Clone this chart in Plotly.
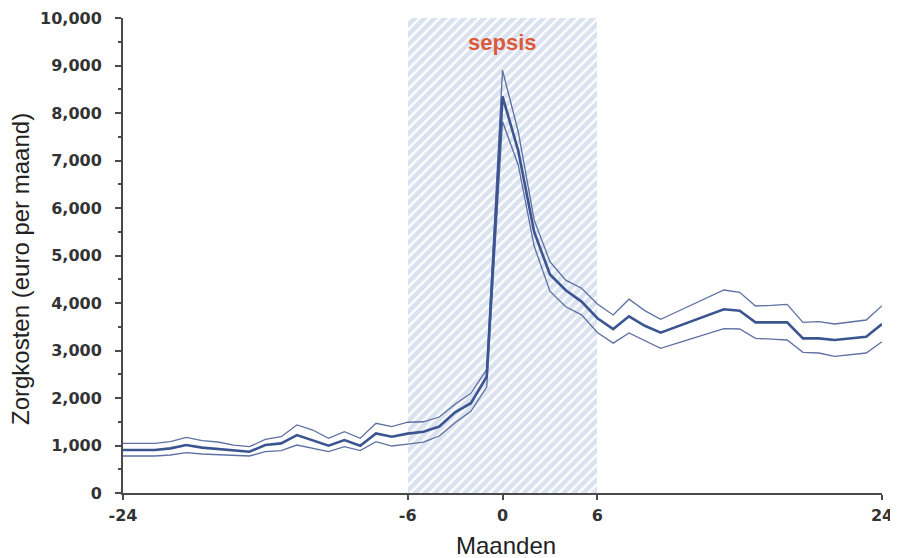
import plotly.graph_objects as go

months = list(range(-24, 25))

upper = [1046, 1046, 1046, 1081, 1172, 1102, 1074, 1010, 975, 1130, 1186, 1432, 1326, 1151, 1291, 1151, 1467, 1396,
         1490, 1500, 1600, 1870, 2100, 2600, 8900,
         7600, 5750, 4870, 4480, 4310, 3980, 3747, 4080, 3840, 3656, 3810, 3965, 4120, 4274, 4225, 3937, 3950, 3972,
         3593, 3607, 3558, 3600, 3642, 3944]
mean = [905, 905, 905, 940, 1010, 955, 925, 900, 870, 1010, 1045, 1220, 1115, 995, 1115, 995, 1255, 1185,
        1250, 1290, 1400, 1700, 1890, 2450, 8350,
        7200, 5500, 4600, 4270, 4030, 3680, 3450, 3720, 3520, 3375, 3500, 3620, 3745, 3867, 3838, 3593, 3593, 3593,
        3256, 3256, 3221, 3250, 3291, 3558]
lower = [779, 779, 779, 800, 849, 821, 807, 793, 779, 870, 891, 1010, 940, 870, 975, 891, 1081, 989,
         1030, 1070, 1200, 1480, 1720, 2230, 7820,
         6900, 5200, 4250, 3920, 3750, 3380, 3155, 3370, 3210, 3046, 3150, 3250, 3355, 3460, 3453, 3256, 3240, 3221,
         2961, 2947, 2877, 2910, 2947, 3186]

window_start, window_end = -6, 6
y_max = 10000
x_ticks = [-24, -6, 0, 6, 24]
label_text = "sepsis"
label_y = 9480

fig = go.Figure()

# shaded sepsis window with diagonal stripes
fig.add_trace(go.Bar(
    x=[(window_start + window_end) / 2], y=[y_max], width=[window_end - window_start],
    marker=dict(color="#dae2ef", line=dict(width=0),
                pattern=dict(shape="/", fgcolor="#ffffff", bgcolor="#dae2ef", size=7, solidity=0.35,
                             fillmode="replace")),
    hoverinfo="skip", showlegend=False,
))

for ys in (upper, lower):
    fig.add_trace(go.Scatter(x=months, y=ys, mode="lines",
                             line=dict(color="#4d6299", width=1.3), opacity=0.9, showlegend=False))
fig.add_trace(go.Scatter(x=months, y=mean, mode="lines",
                         line=dict(color="#3b5591", width=2.6), showlegend=False))

tick_font = dict(family="DejaVu Sans", size=16, color="#333333", weight="bold")
title_font = dict(family="Liberation Sans", size=24, color="#222222")

# the page body has an 8px margin, so the figure is sized/offset to compensate
W, H = 890, 550
L, R, T, B = 115, 16, 10, 65
pw, ph = W - L - R, H - T - B

fig.update_layout(
    width=W, height=H,
    margin=dict(l=L, r=R, t=T, b=B, autoexpand=False),
    paper_bgcolor="white", plot_bgcolor="white",
    bargap=0,
    xaxis=dict(range=[-24, 24], tickvals=x_ticks, ticktext=[str(v) for v in x_ticks],
               showgrid=False, zeroline=False, showline=True, linecolor="#4a4a4a", linewidth=2,
               ticks="outside", ticklen=5, tickwidth=2, tickcolor="#4a4a4a", tickfont=tick_font,
               ticklabelstandoff=2, automargin=False),
    yaxis=dict(range=[0, y_max], dtick=1000, tickformat=",", showgrid=False, zeroline=False,
               showline=True, linecolor="#4a4a4a", linewidth=2,
               ticks="outside", ticklen=6, tickwidth=2, tickcolor="#4a4a4a", tickfont=tick_font,
               ticklabelstandoff=10, automargin=False,
               minor=dict(dtick=500, ticks="outside", ticklen=3, tickwidth=1.5, tickcolor="#4a4a4a")),
    annotations=[
        dict(text="Zorgkosten (euro per maand)", textangle=-90, xref="paper", yref="paper",
             x=(20 - 123) / pw, y=(493 - 269) / ph, xanchor="center", yanchor="middle",
             showarrow=False, font=title_font),
        dict(text="Maanden", xref="paper", yref="paper",
             x=(506 - 123) / pw, y=(493 - 545) / ph, xanchor="center", yanchor="middle",
             showarrow=False, font=title_font),
        dict(text=label_text, x=(window_start + window_end) / 2, y=label_y, xref="x", yref="y",
             showarrow=False, font=dict(family="Liberation Sans", size=22, color="#dc5a3c", weight="bold")),
    ],
)

fig.write_html("out.html")
